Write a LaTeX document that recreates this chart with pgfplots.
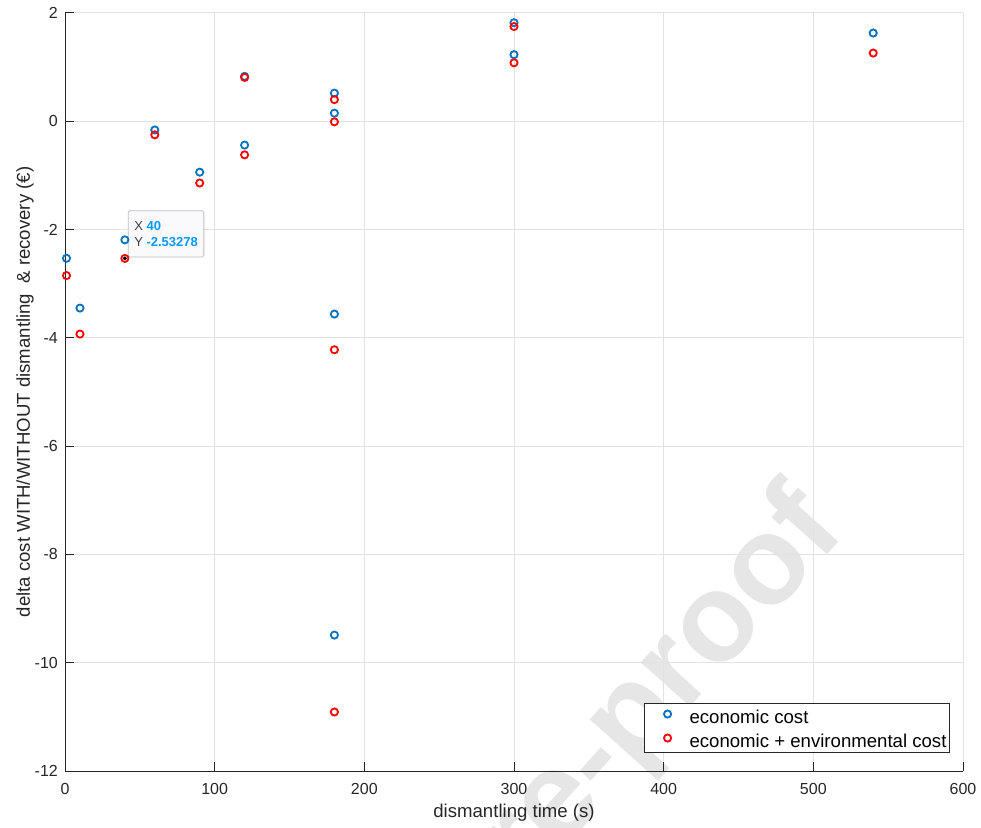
\documentclass[border=0pt]{standalone}
\usepackage{fontspec}
\setmainfont{Liberation Sans}
\usepackage{pgfplots}
\pgfplotsset{compat=1.18}
\definecolor{mblue}{RGB}{0,114,189}
\definecolor{mred}{RGB}{255,0,0}
\definecolor{axgray}{RGB}{38,38,38}
\definecolor{gridgray}{RGB}{226,226,226}
\definecolor{tipblue}{RGB}{0,153,255}
\definecolor{tiptext}{RGB}{64,64,64}
\definecolor{tipbg}{RGB}{250,250,253}
\definecolor{tipborder}{RGB}{190,190,190}
\definecolor{wm}{RGB}{230,230,230}
\begin{document}
\begin{tikzpicture}
\begin{axis}[
 set layers,
 scale only axis, width=898pt, height=758pt,
 xmin=0, xmax=600, ymin=-12, ymax=2,
 xtick={0,100,200,300,400,500,600},
 xticklabels={0,100,200,300,400,500,600},
 ytick={-12,-10,-8,-6,-4,-2,0,2},
 yticklabels={-12,-10,-8,-6,-4,-2,0,2},
 axis x line*=bottom, axis y line*=left,
 axis line style={axgray, line width=1pt},
 tick align=inside, major tick length=9pt,
 tick style={axgray, line width=1pt},
 grid=major, major grid style={gridgray, line width=1pt},
 clip=false,
 /pgf/number format/assume math mode=true,
 ticklabel style={font=\fontsize{16}{19}\selectfont, text=axgray, inner sep=0pt},
 xticklabel style={anchor=north, yshift=-12pt},
 yticklabel style={anchor=east, xshift=-7pt},
 xlabel={dismantling time (s)},
 ylabel={delta cost WITH/WITHOUT dismantling\ \ \& recovery (€)},
 label style={font=\fontsize{18.6}{22}\selectfont, text=axgray, inner sep=0pt},
 xlabel style={at={(axis description cs:0.5,-0.0607)}, anchor=base},
 ylabel style={at={(axis description cs:-0.039,0.5)}, anchor=base},
 legend style={at={(0.9855,0.0237)}, anchor=south east, draw=axgray, line width=1pt,
   fill=white, font=\fontsize{18.6}{22}\selectfont, text=black,
   inner xsep=1pt, inner ysep=0.5pt, row sep=0pt, column sep=0pt,
   nodes={inner xsep=2pt, inner ysep=3pt, text height=16pt, text depth=2pt}},
 legend cell align=left,
 legend image code/.code={\path[draw=none,fill=none] (-22pt,0pt) -- (20pt,0pt); \draw[#1] plot coordinates {(0pt,2pt)};},
]
\begin{pgfonlayer}{axis background}
\node[overlay, rotate=48, anchor=base east, font=\fontsize{125}{125}\selectfont\bfseries, text=wm] at (axis cs:524.5,-7.55) {Journal Pre-proof};
\end{pgfonlayer}

\addplot[only marks, mark=o, color=mblue, line width=1.8pt, mark size=3.6pt] coordinates {
(1,-2.53) (10,-3.45) (40,-2.19) (60,-0.16) (90,-0.94) (120,0.83) (120,-0.44)
(180,0.52) (180,0.15) (180,-3.56) (180,-9.49) (300,1.82) (300,1.23) (540,1.63)};
\addlegendentry{economic cost}
\addplot[only marks, mark=o, color=mred, line width=1.8pt, mark size=3.6pt] coordinates {
(1,-2.85) (10,-3.93) (40,-2.53278) (60,-0.25) (90,-1.14) (120,0.81) (120,-0.62)
(180,0.40) (180,-0.01) (180,-4.22) (180,-10.91) (300,1.75) (300,1.08) (540,1.26)};
\addlegendentry{economic + environmental cost}
\addplot[only marks, mark=*, color=black, line width=0.4pt, mark size=1.8pt, forget plot] coordinates {(40,-2.53278)};

\node[anchor=south west, fill=tipbg, draw=tipborder, rounded corners=1.5pt, line width=0.8pt,
  inner xsep=6pt, inner ysep=10.5pt, align=left, font=\fontsize{13}{16}\selectfont, text=tiptext]
  at (axis cs:40,-2.53278) [xshift=3pt, yshift=1pt]
  {X \textcolor{tipblue}{\textbf{40}}\\Y \textcolor{tipblue}{\textbf{-2.53278}}};
\end{axis}
\pgfresetboundingbox
\path ([xshift=-65pt,yshift=-56pt]current axis.south west) rectangle ([xshift=18pt,yshift=13pt]current axis.north east);
\end{tikzpicture}
\end{document}
